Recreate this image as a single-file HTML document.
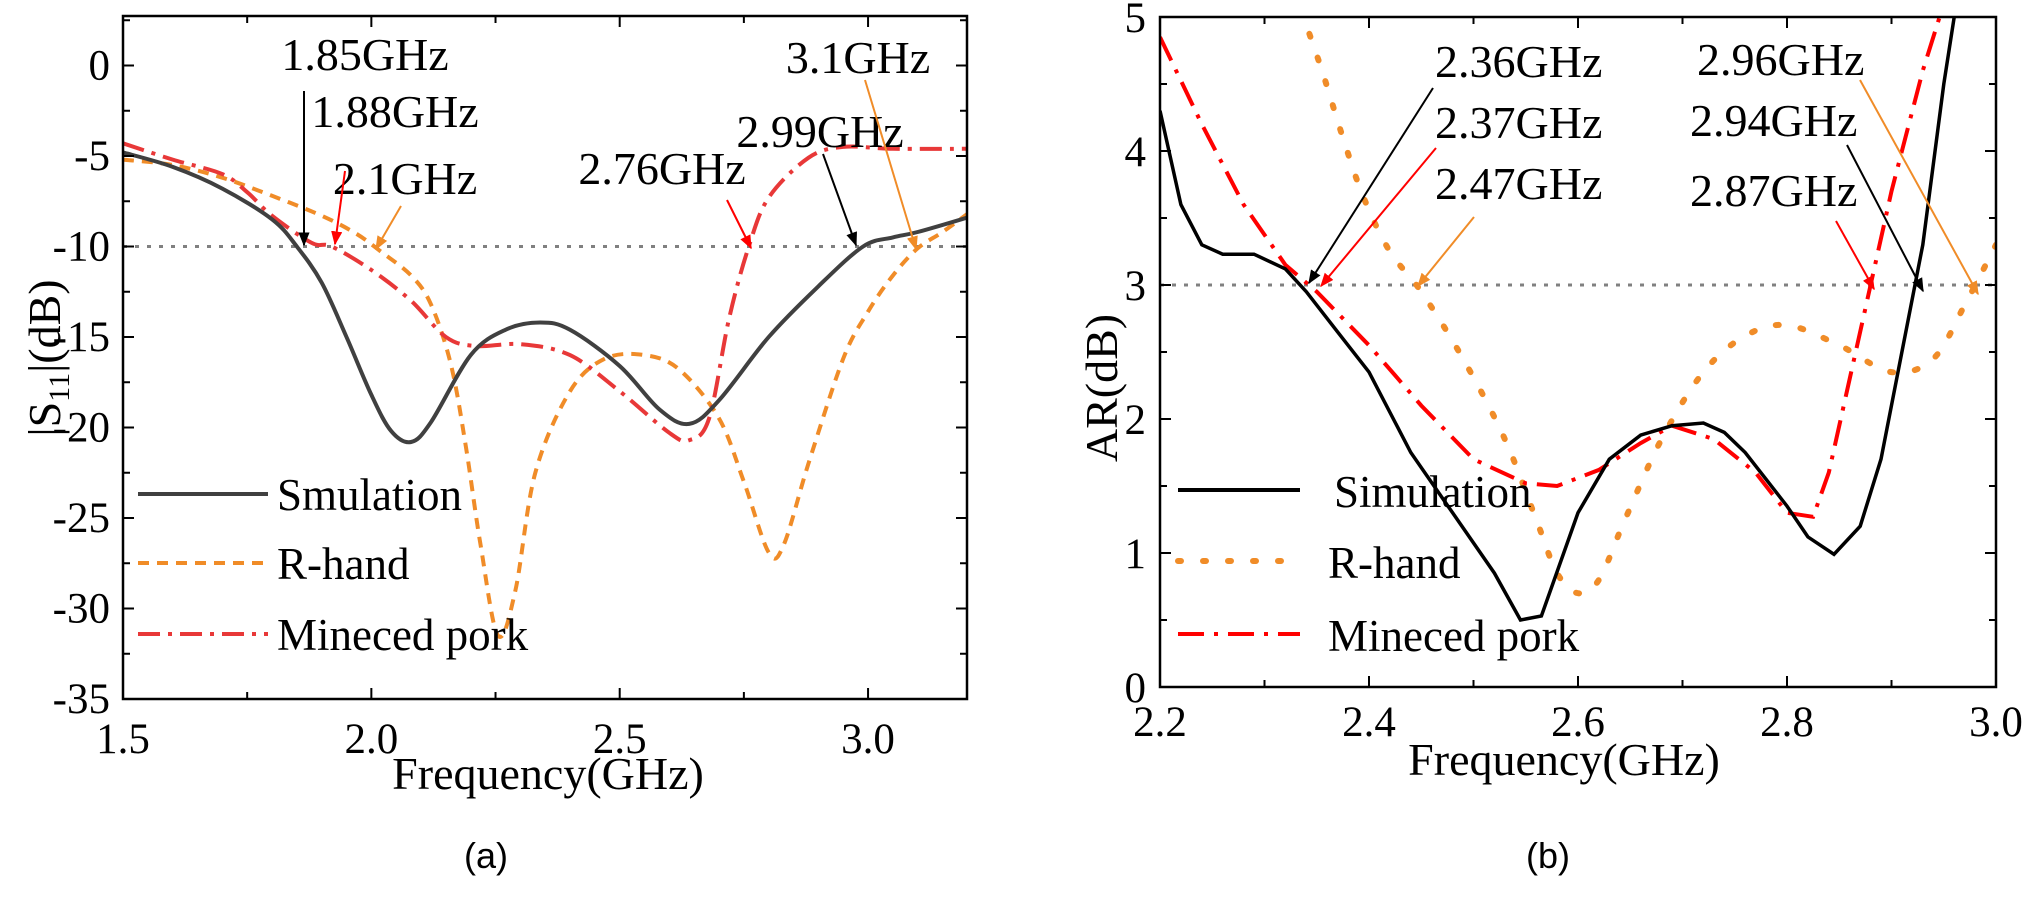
<!DOCTYPE html>
<html><head><meta charset="utf-8"><style>
html,body{margin:0;padding:0;background:#fff;}
svg{display:block;}
text{font-family:"Liberation Serif",serif;fill:#000;}
</style></head><body>
<svg id="s" width="2030" height="923" xmlns="http://www.w3.org/2000/svg">
<rect width="2030" height="923" fill="#fff"/>
<g id="g"></g>
<defs>
<marker id="mr" viewBox="0 0 10 10" refX="9" refY="5" markerWidth="14" markerHeight="14" markerUnits="userSpaceOnUse" orient="auto"><path d="M0,1 L10,5 L0,9 Z" fill="#f00"/></marker>
<marker id="mo" viewBox="0 0 10 10" refX="9" refY="5" markerWidth="14" markerHeight="14" markerUnits="userSpaceOnUse" orient="auto"><path d="M0,1 L10,5 L0,9 Z" fill="#f08c28"/></marker>
<marker id="mb" viewBox="0 0 10 10" refX="9" refY="5" markerWidth="14" markerHeight="14" markerUnits="userSpaceOnUse" orient="auto"><path d="M0,1 L10,5 L0,9 Z" fill="#000"/></marker>
</defs>
</svg>
<script>
var out=[];
function P(s){out.push(s);}
function smooth(pts){var d='M'+pts[0][0].toFixed(1)+','+pts[0][1].toFixed(1);
 for(var i=0;i<pts.length-1;i++){var p0=pts[i-1]||pts[i],p1=pts[i],p2=pts[i+1],p3=pts[i+2]||p2;
 var c1=[p1[0]+(p2[0]-p0[0])/6,p1[1]+(p2[1]-p0[1])/6],c2=[p2[0]-(p3[0]-p1[0])/6,p2[1]-(p3[1]-p1[1])/6];
 d+=' C'+c1[0].toFixed(1)+','+c1[1].toFixed(1)+' '+c2[0].toFixed(1)+','+c2[1].toFixed(1)+' '+p2[0].toFixed(1)+','+p2[1].toFixed(1);}
 return d;}
function lin(pts){return 'M'+pts.map(function(p){return p[0].toFixed(1)+','+p[1].toFixed(1)}).join(' L');}
var TF=43, AF=46, LF=45, XF=46;
// ---------- Left plot ----------
function lx(f){return 123+(f-1.5)*496.7;}
function ly(v){return 699-(v+35)*18.1;}
P('<clipPath id="cl"><rect x="123" y="16" width="844" height="683"/></clipPath>');
P('<line x1="123" y1="'+ly(-10)+'" x2="967" y2="'+ly(-10)+'" stroke="#808080" stroke-width="3" stroke-dasharray="4,8"/>');
var sim=[[1.5,-4.8],[1.6,-5.6],[1.7,-6.8],[1.8,-8.5],[1.85,-10],[1.9,-12],[1.95,-15],[2.0,-18.2],[2.04,-20.2],[2.08,-20.8],[2.12,-19.7],[2.2,-16],[2.27,-14.6],[2.34,-14.2],[2.4,-14.6],[2.5,-16.6],[2.58,-19],[2.64,-19.8],[2.7,-18.5],[2.8,-15],[2.9,-12.2],[2.99,-10],[3.05,-9.5],[3.1,-9.2],[3.2,-8.4]];
var rh=[[1.5,-5.2],[1.6,-5.5],[1.7,-6.2],[1.8,-7.2],[1.9,-8.3],[1.97,-9.3],[2.02,-10.3],[2.08,-11.6],[2.12,-13.2],[2.16,-16.5],[2.19,-21],[2.22,-26.5],[2.255,-31.5],[2.29,-29],[2.33,-22.5],[2.4,-18],[2.47,-16.2],[2.55,-16],[2.62,-16.8],[2.7,-19.5],[2.75,-23],[2.8,-26.9],[2.83,-26.5],[2.88,-22],[2.95,-16.2],[3.0,-13.6],[3.05,-11.6],[3.1,-10.1],[3.15,-9.2],[3.2,-8.2]];
var mp=[[1.5,-4.3],[1.6,-5.2],[1.7,-6],[1.75,-7],[1.8,-8.3],[1.88,-9.8],[1.92,-10],[2.0,-11.3],[2.08,-13],[2.15,-15],[2.21,-15.5],[2.3,-15.4],[2.4,-16],[2.5,-18],[2.6,-20.3],[2.64,-20.7],[2.68,-19.5],[2.72,-14],[2.76,-10],[2.8,-7.3],[2.88,-5.1],[2.95,-4.5],[3.05,-4.6],[3.2,-4.6]];
function mapL(a){return a.map(function(p){return [lx(p[0]),ly(p[1])]});}
P('<g clip-path="url(#cl)" fill="none">');
P('<path d="'+smooth(mapL(rh))+'" stroke="#f08c28" stroke-width="4" stroke-dasharray="11,8"/>');
P('<path d="'+smooth(mapL(mp))+'" stroke="#e83838" stroke-width="4" stroke-dasharray="22,8,4,8"/>');
P('<path d="'+smooth(mapL(sim))+'" stroke="#404040" stroke-width="4"/>');
P('</g>');
P('<rect x="123" y="16" width="844" height="683" fill="none" stroke="#000" stroke-width="2.5"/>');
for(var v=-35;v<=2.5;v+=2.5){var y=ly(v),len=(v%5==0)?11:7;
 P('<line x1="123" y1="'+y+'" x2="'+(123+len)+'" y2="'+y+'" stroke="#000" stroke-width="2"/>');
 P('<line x1="967" y1="'+y+'" x2="'+(967-len)+'" y2="'+y+'" stroke="#000" stroke-width="2"/>');
 if(v%5==0)P('<text x="110" y="'+(y+14)+'" font-size="'+TF+'" text-anchor="end">'+v+'</text>');}
for(var f=1.5;f<=3.2;f+=0.25){var x=lx(f),maj=(Math.round(f*100)%50==0),len=maj?11:7;
 P('<line x1="'+x+'" y1="699" x2="'+x+'" y2="'+(699-len)+'" stroke="#000" stroke-width="2"/>');
 P('<line x1="'+x+'" y1="16" x2="'+x+'" y2="'+(16+len)+'" stroke="#000" stroke-width="2"/>');
 if(maj)P('<text x="'+x+'" y="753" font-size="'+TF+'" text-anchor="middle">'+f.toFixed(1)+'</text>');}
P('<text x="548" y="789" font-size="'+XF+'" text-anchor="middle">Frequency(GHz)</text>');
P('<text transform="translate(60,358) rotate(-90)" font-size="'+XF+'" text-anchor="middle">|S<tspan font-size="30" dy="9">11</tspan><tspan dy="-9">|(dB)</tspan></text>');
P('<line x1="138" y1="494" x2="268" y2="494" stroke="#404040" stroke-width="4"/>');
P('<text x="277" y="510" font-size="'+LF+'">Smulation</text>');
P('<line x1="138" y1="563" x2="268" y2="563" stroke="#f08c28" stroke-width="4" stroke-dasharray="11,8"/>');
P('<text x="277" y="579" font-size="'+LF+'">R-hand</text>');
P('<line x1="138" y1="634" x2="268" y2="634" stroke="#e83838" stroke-width="4" stroke-dasharray="22,8,4,8"/>');
P('<text x="277" y="650" font-size="'+LF+'">Mineced pork</text>');
P('<text x="365" y="70" font-size="'+AF+'" text-anchor="middle">1.85GHz</text>');
P('<text x="395" y="127" font-size="'+AF+'" text-anchor="middle">1.88GHz</text>');
P('<text x="405" y="194" font-size="'+AF+'" text-anchor="middle">2.1GHz</text>');
P('<text x="662" y="184" font-size="'+AF+'" text-anchor="middle">2.76GHz</text>');
P('<text x="820" y="147" font-size="'+AF+'" text-anchor="middle">2.99GHz</text>');
P('<text x="858" y="73" font-size="'+AF+'" text-anchor="middle">3.1GHz</text>');
P('<line x1="304" y1="91" x2="304" y2="245" stroke="#000" stroke-width="2" marker-end="url(#mb)"/>');
P('<line x1="345" y1="171" x2="335" y2="244" stroke="#f00" stroke-width="2" marker-end="url(#mr)"/>');
P('<line x1="401" y1="206" x2="376" y2="249" stroke="#f08c28" stroke-width="2" marker-end="url(#mo)"/>');
P('<line x1="727" y1="200" x2="751" y2="248" stroke="#f00" stroke-width="2" marker-end="url(#mr)"/>');
P('<line x1="823" y1="154" x2="856" y2="245" stroke="#000" stroke-width="2" marker-end="url(#mb)"/>');
P('<line x1="865" y1="80" x2="916" y2="249" stroke="#f08c28" stroke-width="2" marker-end="url(#mo)"/>');
P('<text x="486" y="868" font-size="36" text-anchor="middle" style="font-family:\'Liberation Sans\',sans-serif">(a)</text>');
// ---------- Right plot ----------
function rx(f){return 1160+(f-2.2)*1045;}
function ry(v){return 687-v*134;}
P('<clipPath id="cr"><rect x="1160" y="17" width="836" height="670"/></clipPath>');
P('<line x1="1160" y1="'+ry(3)+'" x2="1996" y2="'+ry(3)+'" stroke="#808080" stroke-width="3" stroke-dasharray="4,8"/>');
var rs=[[2.2,4.3],[2.22,3.6],[2.24,3.3],[2.26,3.23],[2.29,3.23],[2.32,3.12],[2.34,2.95],[2.37,2.65],[2.4,2.35],[2.44,1.75],[2.48,1.3],[2.52,0.85],[2.545,0.5],[2.565,0.53],[2.6,1.3],[2.63,1.7],[2.66,1.88],[2.69,1.95],[2.72,1.97],[2.74,1.9],[2.76,1.75],[2.8,1.35],[2.82,1.12],[2.845,0.99],[2.87,1.2],[2.89,1.7],[2.91,2.5],[2.93,3.3],[2.95,4.5],[2.962,5.1]];
var rm=[[2.2,4.85],[2.24,4.2],[2.28,3.6],[2.32,3.15],[2.35,2.95],[2.4,2.55],[2.45,2.1],[2.5,1.7],[2.55,1.52],[2.58,1.5],[2.62,1.62],[2.66,1.82],[2.69,1.95],[2.73,1.85],[2.77,1.6],[2.8,1.3],[2.825,1.27],[2.84,1.6],[2.86,2.3],[2.88,3.0],[2.9,3.7],[2.93,4.6],[2.95,5.1]];
var ro=[[2.335,5.05],[2.355,4.6],[2.375,4.1],[2.395,3.65],[2.42,3.25],[2.45,2.95],[2.49,2.45],[2.53,1.85],[2.56,1.25],[2.58,0.85],[2.6,0.7],[2.62,0.8],[2.645,1.25],[2.68,1.85],[2.72,2.35],[2.76,2.62],[2.8,2.7],[2.85,2.55],[2.9,2.35],[2.94,2.45],[2.97,2.85],[3.0,3.3]];
function mapR(a){return a.map(function(p){return [rx(p[0]),ry(p[1])]});}
P('<g clip-path="url(#cr)" fill="none">');
P('<path d="'+smooth(mapR(ro))+'" stroke="#f08c28" stroke-width="6" stroke-dasharray="3,22" stroke-linecap="round"/>');
P('<path d="'+lin(mapR(rm))+'" stroke="#f00" stroke-width="4" stroke-dasharray="26,10,4,10"/>');
P('<path d="'+lin(mapR(rs))+'" stroke="#000" stroke-width="3.5"/>');
P('</g>');
P('<rect x="1160" y="17" width="836" height="670" fill="none" stroke="#000" stroke-width="2.5"/>');
for(var v=0;v<=5;v+=0.5){var y=ry(v),maj=(v%1==0),len=maj?11:7;
 P('<line x1="1160" y1="'+y+'" x2="'+(1160+len)+'" y2="'+y+'" stroke="#000" stroke-width="2"/>');
 P('<line x1="1996" y1="'+y+'" x2="'+(1996-len)+'" y2="'+y+'" stroke="#000" stroke-width="2"/>');
 if(maj)P('<text x="1146" y="'+(y+15)+'" font-size="'+TF+'" text-anchor="end">'+v+'</text>');}
for(var k=0;k<=8;k++){var f=2.2+k*0.1,x=rx(f),maj=(k%2==0),len=maj?11:7;
 P('<line x1="'+x+'" y1="687" x2="'+x+'" y2="'+(687-len)+'" stroke="#000" stroke-width="2"/>');
 P('<line x1="'+x+'" y1="17" x2="'+x+'" y2="'+(17+len)+'" stroke="#000" stroke-width="2"/>');
 if(maj)P('<text x="'+x+'" y="736" font-size="'+TF+'" text-anchor="middle">'+f.toFixed(1)+'</text>');}
P('<text x="1564" y="775" font-size="'+XF+'" text-anchor="middle">Frequency(GHz)</text>');
P('<text transform="translate(1117,388) rotate(-90)" font-size="'+XF+'" text-anchor="middle">AR(dB)</text>');
P('<line x1="1178" y1="490" x2="1300" y2="490" stroke="#000" stroke-width="4"/>');
P('<text x="1334" y="507" font-size="'+LF+'">Simulation</text>');
P('<line x1="1178" y1="561" x2="1300" y2="561" stroke="#f08c28" stroke-width="6" stroke-dasharray="3,22" stroke-linecap="round"/>');
P('<text x="1328" y="578" font-size="'+LF+'">R-hand</text>');
P('<line x1="1178" y1="634" x2="1300" y2="634" stroke="#f00" stroke-width="4" stroke-dasharray="26,10,4,10"/>');
P('<text x="1328" y="651" font-size="'+LF+'">Mineced pork</text>');
P('<text x="1435" y="77" font-size="'+AF+'">2.36GHz</text>');
P('<text x="1435" y="138" font-size="'+AF+'">2.37GHz</text>');
P('<text x="1435" y="199" font-size="'+AF+'">2.47GHz</text>');
P('<text x="1697" y="75" font-size="'+AF+'">2.96GHz</text>');
P('<text x="1690" y="136" font-size="'+AF+'">2.94GHz</text>');
P('<text x="1690" y="206" font-size="'+AF+'">2.87GHz</text>');
P('<line x1="1433" y1="88" x2="1309" y2="283" stroke="#000" stroke-width="2" marker-end="url(#mb)"/>');
P('<line x1="1436" y1="148" x2="1321" y2="286" stroke="#f00" stroke-width="2" marker-end="url(#mr)"/>');
P('<line x1="1474" y1="217" x2="1418" y2="286" stroke="#f08c28" stroke-width="2" marker-end="url(#mo)"/>');
P('<line x1="1860" y1="80" x2="1978" y2="294" stroke="#f08c28" stroke-width="2" marker-end="url(#mo)"/>');
P('<line x1="1847" y1="145" x2="1923" y2="291" stroke="#000" stroke-width="2" marker-end="url(#mb)"/>');
P('<line x1="1836" y1="221" x2="1874" y2="289" stroke="#f00" stroke-width="2" marker-end="url(#mr)"/>');
P('<text x="1548" y="868" font-size="36" text-anchor="middle" style="font-family:\'Liberation Sans\',sans-serif">(b)</text>');
document.getElementById('g').innerHTML=out.join('');
</script>
</body></html>
